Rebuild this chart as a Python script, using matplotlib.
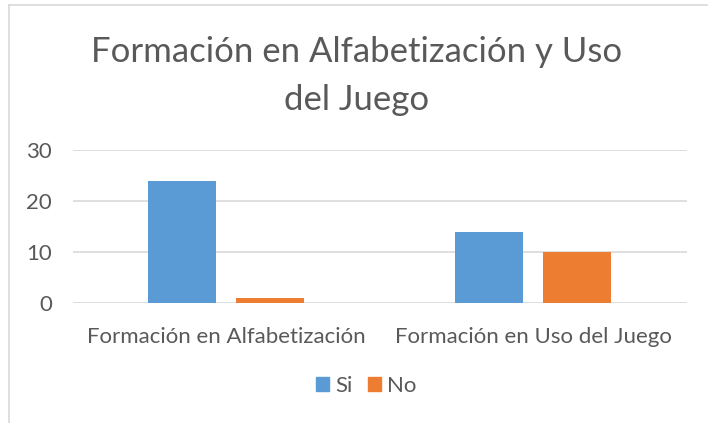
import matplotlib.pyplot as plt
from matplotlib.patches import Patch
from matplotlib.lines import Line2D
import numpy as np

# Datos
categorias = ['Formación en Alfabetización', 'Formación en Uso del Juego']
valores_si = [24, 14]
valores_no = [1, 10]
series = ['Si', 'No']
colores = ['#5B9BD5', '#ED7D31']
gris = '#595959'

plt.rcParams['font.family'] = ['Lato', 'DejaVu Sans']

fig = plt.figure(figsize=(7.08, 4.23), dpi=100)
ax = fig.add_axes([0.1031, 0.2837, 0.8672, 0.3617])

x = np.arange(len(categorias))
ancho = 0.2215
desp = 0.1433
ax.bar(x - desp, valores_si, ancho, color=colores[0], zorder=3)
ax.bar(x + desp, valores_no, ancho, color=colores[1], zorder=3)

ax.set_xlim(-0.5, 1.5)
ax.set_ylim(0, 30)
ax.set_yticks([0, 10, 20, 30])
ax.set_xticks(x)
ax.set_xticklabels(categorias)
ax.grid(axis='y', color='#D9D9D9', linewidth=1.2, zorder=0)
for s in ax.spines.values():
    s.set_visible(False)
ax.tick_params(axis='both', length=0, labelsize=16, colors=gris)
ax.tick_params(axis='y', pad=15)
ax.tick_params(axis='x', pad=17)

fig.text(0.503, 0.877, 'Formación en Alfabetización y Uso', ha='center', va='center',
         fontsize=25, color=gris)
fig.text(0.503, 0.763, 'del Juego', ha='center', va='center',
         fontsize=25, color=gris)

handles = [Patch(color=c, label=l) for c, l in zip(colores, series)]
fig.legend(handles=handles, loc='center', bbox_to_anchor=(0.517, 0.088),
           ncol=2, frameon=False, fontsize=16, labelcolor=gris,
           handlelength=0.6, handleheight=0.6, handletextpad=0.25, columnspacing=0.7)

# borde del gráfico (parcialmente recortado)
fig.add_artist(Line2D([9 / 708, 1], [1 - 5 / 423, 1 - 5 / 423], color='#D9D9D9', lw=1.2,
                      transform=fig.transFigure))
fig.add_artist(Line2D([9 / 708, 9 / 708], [0, 1 - 5 / 423], color='#D9D9D9', lw=1.2,
                      transform=fig.transFigure))

fig.savefig('out.png', dpi=100)
